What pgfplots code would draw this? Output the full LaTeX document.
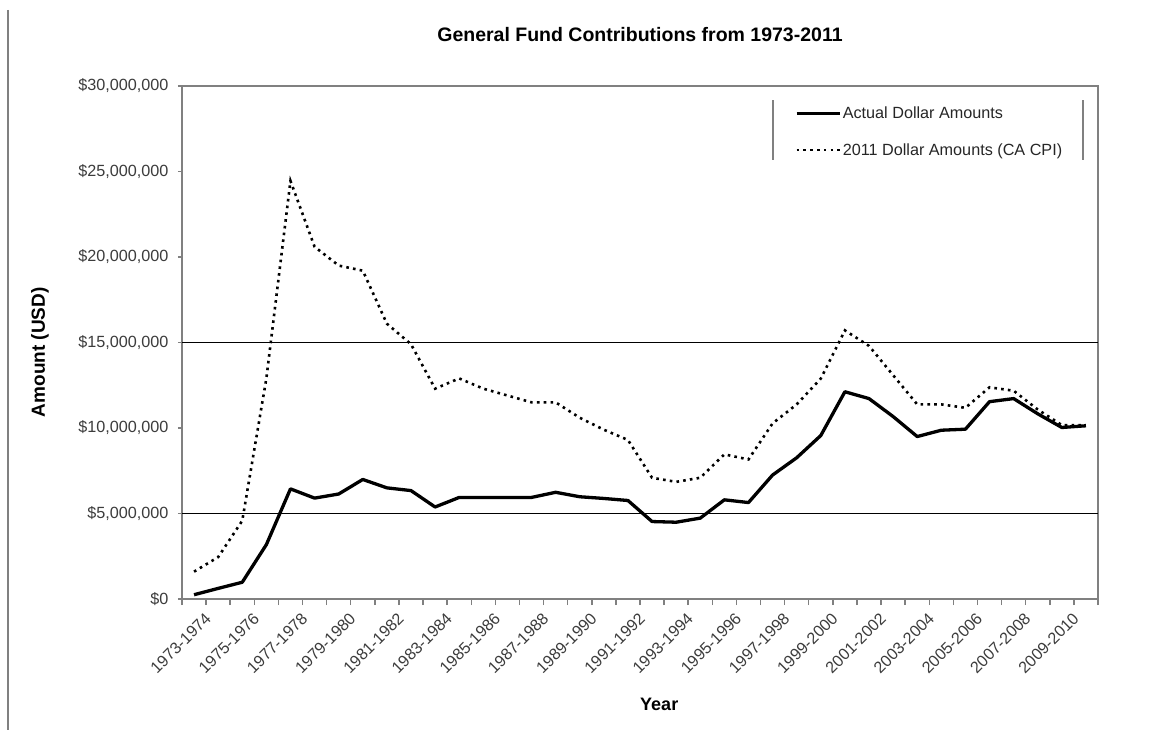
\documentclass[border=0pt]{standalone}
\usepackage{fontspec}
\setmainfont{Liberation Sans}
\usepackage{pgfplots}
\usepackage{pgfplotstable}
\pgfplotsset{compat=1.18}

\definecolor{axisgray}{RGB}{128,128,128}
\definecolor{labelgray}{RGB}{60,60,60}

% values in millions of USD, one row per fiscal year (1973-1974 = 0)
\pgfplotstableread{
idx actual real
0  0.25  1.60
1  0.62  2.45
2  0.98  4.58
3  3.18  12.9
4  6.44  24.45
5  5.90  20.6
6  6.14  19.5
7  6.99  19.2
8  6.50  16.1
9  6.34  14.9
10 5.38  12.3
11 5.94  12.9
12 5.94  12.3
13 5.94  11.9
14 5.94  11.5
15 6.24  11.5
16 5.98  10.6
17 5.88  9.9
18 5.76  9.3
19 4.53  7.09
20 4.49  6.85
21 4.73  7.09
22 5.80  8.46
23 5.64  8.16
24 7.25  10.27
25 8.26  11.38
26 9.56  12.89
27 12.12 15.71
28 11.72 14.80
29 10.67 13.09
30 9.50  11.38
31 9.87  11.38
32 9.93  11.18
33 11.54 12.38
34 11.72 12.18
35 10.83 11.08
36 10.03 10.17
37 10.13 10.17
}\funddata

\begin{document}
\begin{tikzpicture}
\path[use as bounding box] (-182pt,-132pt) rectangle (992pt,599pt);
\draw[axisgray, line width=2pt] (-174pt,589pt) -- (-174pt,-131pt);
\begin{axis}[
    at={(0pt,0pt)}, anchor=south west,
    scale only axis,
    width=916pt, height=513pt,
    xmin=-0.5, xmax=37.5,
    ymin=0, ymax=30,
    xtick={0,2,...,36},
    xticklabels={1973-1974,1975-1976,1977-1978,1979-1980,1981-1982,1983-1984,
        1985-1986,1987-1988,1989-1990,1991-1992,1993-1994,1995-1996,1997-1998,
        1999-2000,2001-2002,2003-2004,2005-2006,2007-2008,2009-2010},
    minor xtick={-0.5,0.5,...,37.5},
    ytick={0,5,...,30},
    yticklabels={{\$0},{\$5,000,000},{\$10,000,000},{\$15,000,000},
        {\$20,000,000},{\$25,000,000},{\$30,000,000}},
    extra y ticks={5,15},
    extra y tick labels={},
    extra y tick style={grid=major, major grid style={black, line width=1.2pt},
        major tick length=0pt},
    xtick pos=left, ytick pos=left,
    tick align=outside,
    major tick length=4pt,
    minor tick length=6pt,
    major x tick style={draw=none},
    every tick/.style={axisgray, line width=1.5pt},
    axis line style={axisgray, line width=1.6pt},
    tick label style={font=\fontsize{16.2}{19}\selectfont, text=labelgray},
    yticklabel style={xshift=-6pt},
    xticklabel style={rotate=45, anchor=east, yshift=-19pt, xshift=2pt,
        inner sep=1pt},
    title={General Fund Contributions from 1973-2011},
    title style={font=\bfseries\fontsize{19.5}{22}\selectfont,
        at={(axis description cs:0.5,1)}, anchor=base, yshift=38pt},
    xlabel={Year},
    xlabel style={font=\bfseries\fontsize{18}{20}\selectfont,
        at={(axis description cs:0.521,0)}, anchor=base, yshift=-111pt},
    ylabel={Amount (USD)},
    ylabel style={font=\bfseries\fontsize{19}{22}\selectfont,
        at={(axis description cs:-0.1496,0.481)}, rotate=0, anchor=base},
    legend style={at={(axis description cs:0.669,0.962)}, anchor=north west,
        draw=none, fill=none, font=\fontsize{16.2}{19}\selectfont,
        text=black!85, row sep=20pt, inner sep=0pt,
        nodes={inner sep=1.5pt}},
    legend cell align=left,
    legend image code/.code={\draw[#1] (0pt,0pt) -- (43pt,0pt);},
    clip=false,
]
\addplot[black, line width=3.3pt, line join=round] table[x=idx, y=actual] {\funddata};
\addplot[black, line width=2.6pt, dash pattern=on 2.6pt off 4.2pt] table[x=idx, y=real] {\funddata};
\legend{Actual Dollar Amounts, 2011 Dollar Amounts (CA CPI)}
\draw[axisgray, line width=1.4pt] (rel axis cs:0.6452,0.9727) -- (rel axis cs:0.6452,0.8558);
\draw[axisgray, line width=1.4pt] (rel axis cs:0.9836,0.9727) -- (rel axis cs:0.9836,0.8558);
\end{axis}
\end{tikzpicture}
\end{document}
